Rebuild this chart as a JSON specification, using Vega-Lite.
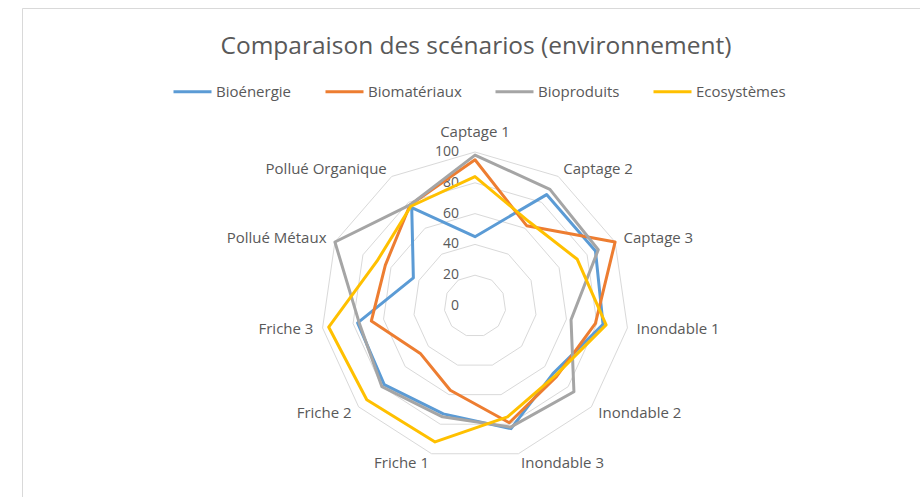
{
  "$schema": "https://vega.github.io/schema/vega-lite/v6.json",
  "width": 898,
  "height": 489,
  "autosize": {"type": "none"},
  "padding": {"left": 22, "top": 8, "right": 0, "bottom": 0},
  "background": "white",
  "config": {"view": {"stroke": "#D9D9D9", "strokeWidth": 1}, "font": "Open Sans"},
  "title": {"text": "Comparaison des scénarios (environnement)", "fontSize": 24.5, "font": "Open Sans", "fontWeight": "normal", "color": "#595959", "anchor": "middle", "offset": -51, "dx": 5},
  "datasets": {
    "axes": [
      {"axis": "Captage 1", "i": 0}, {"axis": "Captage 2", "i": 1}, {"axis": "Captage 3", "i": 2},
      {"axis": "Inondable 1", "i": 3}, {"axis": "Inondable 2", "i": 4}, {"axis": "Inondable 3", "i": 5},
      {"axis": "Friche 1", "i": 6}, {"axis": "Friche 2", "i": 7}, {"axis": "Friche 3", "i": 8},
      {"axis": "Pollué Métaux", "i": 9}, {"axis": "Pollué Organique", "i": 10}
    ],
    "scores": [
      {"scenario": "Bioénergie", "axis": "Captage 1", "value": 45},
      {"scenario": "Bioénergie", "axis": "Captage 2", "value": 86},
      {"scenario": "Bioénergie", "axis": "Captage 3", "value": 86},
      {"scenario": "Bioénergie", "axis": "Inondable 1", "value": 84},
      {"scenario": "Bioénergie", "axis": "Inondable 2", "value": 67},
      {"scenario": "Bioénergie", "axis": "Inondable 3", "value": 83},
      {"scenario": "Bioénergie", "axis": "Friche 1", "value": 73},
      {"scenario": "Bioénergie", "axis": "Friche 2", "value": 78},
      {"scenario": "Bioénergie", "axis": "Friche 3", "value": 77},
      {"scenario": "Bioénergie", "axis": "Pollué Métaux", "value": 44},
      {"scenario": "Bioénergie", "axis": "Pollué Organique", "value": 76},
      {"scenario": "Biomatériaux", "axis": "Captage 1", "value": 95},
      {"scenario": "Biomatériaux", "axis": "Captage 2", "value": 62},
      {"scenario": "Biomatériaux", "axis": "Captage 3", "value": 100},
      {"scenario": "Biomatériaux", "axis": "Inondable 1", "value": 79},
      {"scenario": "Biomatériaux", "axis": "Inondable 2", "value": 70},
      {"scenario": "Biomatériaux", "axis": "Inondable 3", "value": 79},
      {"scenario": "Biomatériaux", "axis": "Friche 1", "value": 57},
      {"scenario": "Biomatériaux", "axis": "Friche 2", "value": 47},
      {"scenario": "Biomatériaux", "axis": "Friche 3", "value": 68},
      {"scenario": "Biomatériaux", "axis": "Pollué Métaux", "value": 64},
      {"scenario": "Biomatériaux", "axis": "Pollué Organique", "value": 78},
      {"scenario": "Bioproduits", "axis": "Captage 1", "value": 98},
      {"scenario": "Bioproduits", "axis": "Captage 2", "value": 90},
      {"scenario": "Bioproduits", "axis": "Captage 3", "value": 88},
      {"scenario": "Bioproduits", "axis": "Inondable 1", "value": 63},
      {"scenario": "Bioproduits", "axis": "Inondable 2", "value": 85},
      {"scenario": "Bioproduits", "axis": "Inondable 3", "value": 82},
      {"scenario": "Bioproduits", "axis": "Friche 1", "value": 75},
      {"scenario": "Bioproduits", "axis": "Friche 2", "value": 80},
      {"scenario": "Bioproduits", "axis": "Friche 3", "value": 76},
      {"scenario": "Bioproduits", "axis": "Pollué Métaux", "value": 100},
      {"scenario": "Bioproduits", "axis": "Pollué Organique", "value": 78},
      {"scenario": "Ecosystèmes", "axis": "Captage 1", "value": 84},
      {"scenario": "Ecosystèmes", "axis": "Captage 2", "value": 65},
      {"scenario": "Ecosystèmes", "axis": "Captage 3", "value": 73},
      {"scenario": "Ecosystèmes", "axis": "Inondable 1", "value": 86},
      {"scenario": "Ecosystèmes", "axis": "Inondable 2", "value": 69},
      {"scenario": "Ecosystèmes", "axis": "Inondable 3", "value": 75},
      {"scenario": "Ecosystèmes", "axis": "Friche 1", "value": 92},
      {"scenario": "Ecosystèmes", "axis": "Friche 2", "value": 93},
      {"scenario": "Ecosystèmes", "axis": "Friche 3", "value": 96},
      {"scenario": "Ecosystèmes", "axis": "Pollué Métaux", "value": 70},
      {"scenario": "Ecosystèmes", "axis": "Pollué Organique", "value": 77}
    ],
    "grid": [
      {"level": 20, "i": [0, 1, 2, 3, 4, 5, 6, 7, 8, 9, 10]},
      {"level": 40, "i": [0, 1, 2, 3, 4, 5, 6, 7, 8, 9, 10]},
      {"level": 60, "i": [0, 1, 2, 3, 4, 5, 6, 7, 8, 9, 10]},
      {"level": 80, "i": [0, 1, 2, 3, 4, 5, 6, 7, 8, 9, 10]},
      {"level": 100, "i": [0, 1, 2, 3, 4, 5, 6, 7, 8, 9, 10]}
    ],
    "scalelabels": [{"v": 0}, {"v": 20}, {"v": 40}, {"v": 60}, {"v": 80}, {"v": 100}]
  },
  "encoding": {
    "x": {"field": "x", "type": "quantitative", "scale": {"domain": [-294.16, 288.96], "nice": false, "zero": false}, "axis": null},
    "y": {"field": "y", "type": "quantitative", "scale": {"domain": [-124.03, 193.51], "nice": false, "zero": false}, "axis": null}
  },
  "layer": [
    {
      "data": {"name": "grid"},
      "transform": [
        {"flatten": ["i"]},
        {"calculate": "datum.i * 2 * PI / 11", "as": "a"},
        {"calculate": "datum.level * sin(datum.a)", "as": "x"},
        {"calculate": "datum.level * cos(datum.a)", "as": "y"}
      ],
      "mark": {"type": "line", "interpolate": "linear-closed", "stroke": "#D9D9D9", "strokeWidth": 1},
      "encoding": {"detail": {"field": "level", "type": "nominal"}, "order": {"field": "i", "type": "quantitative"}}
    },
    {
      "data": {"name": "scalelabels"},
      "transform": [
        {"calculate": "0", "as": "x"},
        {"calculate": "datum.v", "as": "y"},
        {"calculate": "format(datum.v, 'd')", "as": "lab"}
      ],
      "mark": {"type": "text", "align": "right", "baseline": "middle", "dx": -16, "fontSize": 14, "color": "#595959", "font": "Open Sans"},
      "encoding": {
        "text": {"field": "lab", "type": "nominal"}
      }
    },
    {
      "data": {"name": "scores"},
      "transform": [
        {"lookup": "axis", "from": {"data": {"name": "axes"}, "key": "axis", "fields": ["i"]}},
        {"calculate": "datum.i * 2 * PI / 11", "as": "a"},
        {"calculate": "datum.value * sin(datum.a)", "as": "x"},
        {"calculate": "datum.value * cos(datum.a)", "as": "y"}
      ],
      "mark": {"type": "line", "interpolate": "linear-closed", "strokeWidth": 3, "strokeJoin": "round"},
      "encoding": {
        "color": {
          "field": "scenario", "type": "nominal",
          "scale": {"domain": ["Bioénergie", "Biomatériaux", "Bioproduits", "Ecosystèmes"], "range": ["#5B9BD5", "#ED7D31", "#A5A5A5", "#FFC000"]},
          "legend": {"orient": "none", "legendX": 150, "legendY": 63, "direction": "horizontal", "columns": 4, "title": null, "symbolType": "stroke", "symbolSize": 1444, "symbolStrokeWidth": 3, "labelFontSize": 15, "labelFont": "Open Sans", "labelColor": "#595959", "labelOffset": 3, "columnPadding": 27, "padding": 0}
        },
        "order": {"field": "i", "type": "quantitative"}
      }
    },
    {
      "data": {"name": "axes"},
      "transform": [
        {"filter": "datum.i == 0"},
        {"calculate": "datum.i * 2 * PI / 11", "as": "a"},
        {"calculate": "113 * sin(datum.a)", "as": "x"},
        {"calculate": "113 * cos(datum.a)", "as": "y"}
      ],
      "mark": {"type": "text", "align": "center", "baseline": "middle", "fontSize": 15, "color": "#595959", "font": "Open Sans"},
      "encoding": {"text": {"field": "axis"}}
    },
    {
      "data": {"name": "axes"},
      "transform": [
        {"filter": "datum.i >= 1 && datum.i <= 5"},
        {"calculate": "datum.i * 2 * PI / 11", "as": "a"},
        {"calculate": "106 * sin(datum.a)", "as": "x"},
        {"calculate": "106 * cos(datum.a)", "as": "y"}
      ],
      "mark": {"type": "text", "align": "left", "baseline": "middle", "fontSize": 15, "color": "#595959", "font": "Open Sans"},
      "encoding": {"text": {"field": "axis"}}
    },
    {
      "data": {"name": "axes"},
      "transform": [
        {"filter": "datum.i >= 6"},
        {"calculate": "datum.i * 2 * PI / 11", "as": "a"},
        {"calculate": "106 * sin(datum.a)", "as": "x"},
        {"calculate": "106 * cos(datum.a)", "as": "y"}
      ],
      "mark": {"type": "text", "align": "right", "baseline": "middle", "fontSize": 15, "color": "#595959", "font": "Open Sans"},
      "encoding": {"text": {"field": "axis"}}
    }
  ]
}
